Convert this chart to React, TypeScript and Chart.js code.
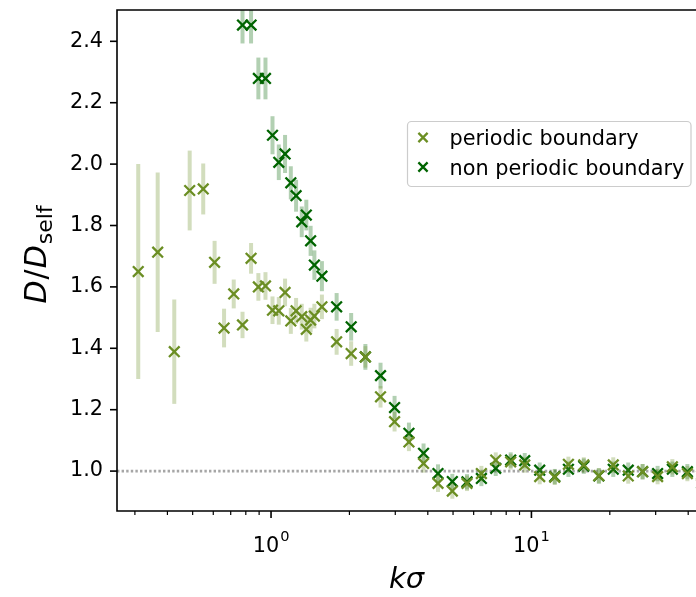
import React, { useEffect, useRef } from "react";
import { Chart, registerables } from "chart.js";

Chart.register(...registerables);

// ---------------- data ----------------
const kPeriodic = [0.309, 0.367, 0.425, 0.487, 0.549, 0.607, 0.66, 0.719, 0.777, 0.838, 0.894, 0.952, 1.013, 1.071, 1.132, 1.191, 1.248, 1.312, 1.366, 1.419, 1.467, 1.568, 1.786, 2.031, 2.303, 2.633, 2.981, 3.385, 3.852, 4.377, 4.968, 5.657, 6.424, 7.293, 8.324, 9.424, 10.76, 12.29, 13.87, 15.89, 18.15, 20.62, 23.54, 26.73, 30.52, 34.77, 39.71, 45.07];
const dPeriodic = [1.65, 1.713, 1.389, 1.914, 1.919, 1.68, 1.466, 1.577, 1.476, 1.693, 1.6, 1.603, 1.524, 1.522, 1.582, 1.489, 1.522, 1.503, 1.462, 1.492, 1.505, 1.535, 1.421, 1.383, 1.372, 1.242, 1.161, 1.095, 1.025, 0.96, 0.935, 0.96, 0.992, 1.036, 1.03, 1.02, 0.982, 0.98, 1.022, 1.02, 0.985, 1.02, 0.984, 0.998, 0.982, 1.014, 0.992, 0.985];
const errPeriodic = [0.35, 0.26, 0.17, 0.13, 0.083, 0.07, 0.063, 0.047, 0.043, 0.05, 0.045, 0.045, 0.045, 0.045, 0.045, 0.042, 0.042, 0.042, 0.04, 0.04, 0.04, 0.04, 0.042, 0.04, 0.035, 0.035, 0.032, 0.03, 0.03, 0.028, 0.025, 0.025, 0.025, 0.025, 0.025, 0.025, 0.025, 0.025, 0.025, 0.025, 0.025, 0.025, 0.025, 0.025, 0.025, 0.025, 0.025, 0.025];

const kNonPeriodic = [0.777, 0.838, 0.894, 0.952, 1.013, 1.071, 1.132, 1.191, 1.248, 1.312, 1.366, 1.419, 1.467, 1.568, 1.786, 2.031, 2.303, 2.633, 2.981, 3.385, 3.852, 4.377, 4.968, 5.657, 6.424, 7.293, 8.324, 9.424, 10.76, 12.29, 13.87, 15.89, 18.15, 20.62, 23.54, 26.73, 30.52, 34.77, 39.71, 45.07];
const dNonPeriodic = [2.453, 2.453, 2.279, 2.279, 2.094, 2.006, 2.033, 1.939, 1.897, 1.812, 1.834, 1.75, 1.671, 1.635, 1.535, 1.47, 1.372, 1.311, 1.207, 1.123, 1.058, 0.992, 0.966, 0.965, 0.976, 1.009, 1.036, 1.034, 1.003, 0.982, 1.006, 1.016, 0.984, 1.006, 1.003, 0.998, 0.992, 1.006, 0.998, 0.96];
const errNonPeriodic = [0.06, 0.06, 0.068, 0.068, 0.062, 0.058, 0.062, 0.054, 0.052, 0.05, 0.05, 0.049, 0.048, 0.049, 0.045, 0.045, 0.042, 0.042, 0.038, 0.035, 0.032, 0.03, 0.025, 0.025, 0.025, 0.025, 0.025, 0.025, 0.025, 0.025, 0.025, 0.025, 0.025, 0.025, 0.025, 0.025, 0.025, 0.025, 0.025, 0.025];

const yTicks = [1.0, 1.2, 1.4, 1.6, 1.8, 2.0, 2.2, 2.4];
const xMajorTicks = [1, 10];
const xMajorExponents = ["0", "1"];
const xMinorTicks = [0.3, 0.4, 0.5, 0.6, 0.7, 0.8, 0.9, 2, 3, 4, 5, 6, 7, 8, 9, 20, 30, 40];
const referenceLevel = 1.0;
const seriesLabels = ["periodic boundary", "non periodic boundary"];

// ---------------- styles ----------------
const FONT = '"DejaVu Sans", sans-serif';
const OLIVE = "#6b8e23";
const DKGREEN = "#006400";
const OLIVE_ERR = "rgba(107,142,35,0.3)";
const GREEN_ERR = "rgba(0,100,0,0.3)";
const X_MIN = 0.2561;
const X_MAX = 46;
const Y_MIN = 0.87;
const Y_MAX = 2.502;
const MARKER_R = 7.5;
const MARKER_W = 2.3;

function drawX(ctx: CanvasRenderingContext2D, x: number, y: number, h: number, color: string) {
  ctx.save();
  ctx.strokeStyle = color;
  ctx.lineWidth = MARKER_W;
  ctx.beginPath();
  ctx.moveTo(x - h, y - h);
  ctx.lineTo(x + h, y + h);
  ctx.moveTo(x - h, y + h);
  ctx.lineTo(x + h, y - h);
  ctx.stroke();
  ctx.restore();
}

const errorBarPlugin = {
  id: "errorBars",
  beforeDatasetsDraw(chart: any) {
    const ctx = chart.ctx as CanvasRenderingContext2D;
    const a = chart.chartArea;
    const ys = chart.scales.y;
    ctx.save();
    ctx.beginPath();
    ctx.rect(a.left, a.top, a.right - a.left, a.bottom - a.top);
    ctx.clip();
    ctx.strokeStyle = "rgba(128,128,128,0.7)";
    ctx.lineWidth = 2.6;
    ctx.setLineDash([2.4, 2.2]);
    const py = ys.getPixelForValue(referenceLevel);
    ctx.beginPath();
    ctx.moveTo(a.left, py);
    ctx.lineTo(a.right, py);
    ctx.stroke();
    ctx.restore();
  },
  beforeDatasetDraw(chart: any, args: any) {
    const ds = chart.data.datasets[args.index];
    const errs: number[] = ds.errors;
    const ctx = chart.ctx as CanvasRenderingContext2D;
    const a = chart.chartArea;
    const xs = chart.scales.x;
    const ys = chart.scales.y;
    ctx.save();
    ctx.beginPath();
    ctx.rect(a.left, a.top, a.right - a.left, a.bottom - a.top);
    ctx.clip();
    ctx.strokeStyle = ds.errorColor;
    ctx.lineWidth = 4;
    ctx.lineCap = "butt";
    ds.data.forEach((p: any, i: number) => {
      const px = xs.getPixelForValue(p.x);
      ctx.beginPath();
      ctx.moveTo(px, ys.getPixelForValue(p.y - errs[i]));
      ctx.lineTo(px, ys.getPixelForValue(p.y + errs[i]));
      ctx.stroke();
    });
    ctx.restore();
  },
};

const decorPlugin = {
  id: "decor",
  afterDraw(chart: any) {
    const ctx = chart.ctx as CanvasRenderingContext2D;
    const a = chart.chartArea;
    const xs = chart.scales.x;
    const ys = chart.scales.y;
    ctx.save();
    // spines
    ctx.strokeStyle = "#000";
    ctx.lineWidth = 1.6;
    ctx.beginPath();
    ctx.moveTo(a.left, a.top);
    ctx.lineTo(a.right, a.top);
    ctx.lineTo(a.right, a.bottom);
    ctx.lineTo(a.left, a.bottom);
    ctx.closePath();
    ctx.stroke();
    // y ticks
    yTicks.forEach((v) => {
      const py = ys.getPixelForValue(v);
      ctx.beginPath();
      ctx.moveTo(a.left - 7, py);
      ctx.lineTo(a.left, py);
      ctx.stroke();
    });
    // x major ticks
    ctx.fillStyle = "#000";
    xMajorTicks.forEach((v, i) => {
      const px = xs.getPixelForValue(v);
      ctx.lineWidth = 1.6;
      ctx.beginPath();
      ctx.moveTo(px, a.bottom);
      ctx.lineTo(px, a.bottom + 7);
      ctx.stroke();
      ctx.font = `20.8px ${FONT}`;
      const w1 = ctx.measureText("10").width;
      ctx.font = `14.6px ${FONT}`;
      const w2 = ctx.measureText(xMajorExponents[i]).width;
      const total = w1 + w2 + 1;
      const sx = px - total / 2;
      ctx.textBaseline = "alphabetic";
      ctx.textAlign = "left";
      ctx.font = `20.8px ${FONT}`;
      ctx.fillText("10", sx, 552);
      ctx.font = `14.6px ${FONT}`;
      ctx.fillText(xMajorExponents[i], sx + w1 + 1, 541);
    });
    // x minor ticks
    xMinorTicks.forEach((v) => {
      const px = xs.getPixelForValue(v);
      ctx.lineWidth = 1.2;
      ctx.beginPath();
      ctx.moveTo(px, a.bottom);
      ctx.lineTo(px, a.bottom + 4);
      ctx.stroke();
    });
    // x label
    ctx.font = `italic 29px ${FONT}`;
    ctx.textAlign = "center";
    ctx.fillText("kσ", (a.left + a.right) / 2 - 4, 588);
    // y label
    ctx.save();
    ctx.translate(46, (a.top + a.bottom) / 2 - 6);
    ctx.rotate(-Math.PI / 2);
    ctx.textAlign = "left";
    const parts = [
      { t: "D", f: `italic 30px ${FONT}`, dy: 0, gap: 1 },
      { t: "/", f: `30px ${FONT}`, dy: 0, gap: 1 },
      { t: "D", f: `italic 30px ${FONT}`, dy: 0, gap: 1 },
      { t: "self", f: `22px ${FONT}`, dy: 6, gap: 0 },
    ];
    let tw = 0;
    const widths = parts.map((p) => {
      ctx.font = p.f;
      const w = ctx.measureText(p.t).width + p.gap;
      tw += w;
      return w;
    });
    let cx = -tw / 2;
    parts.forEach((p, i) => {
      ctx.font = p.f;
      ctx.fillText(p.t, cx, p.dy);
      cx += widths[i];
    });
    ctx.restore();
    // legend
    const lx = 407.5, ly = 121.5, lw = 283.5, lh = 65, r = 4;
    ctx.fillStyle = "rgba(255,255,255,0.8)";
    ctx.strokeStyle = "#cccccc";
    ctx.lineWidth = 1.2;
    ctx.beginPath();
    ctx.moveTo(lx + r, ly);
    ctx.lineTo(lx + lw - r, ly);
    ctx.arcTo(lx + lw, ly, lx + lw, ly + r, r);
    ctx.lineTo(lx + lw, ly + lh - r);
    ctx.arcTo(lx + lw, ly + lh, lx + lw - r, ly + lh, r);
    ctx.lineTo(lx + r, ly + lh);
    ctx.arcTo(lx, ly + lh, lx, ly + lh - r, r);
    ctx.lineTo(lx, ly + r);
    ctx.arcTo(lx, ly, lx + r, ly, r);
    ctx.closePath();
    ctx.fill();
    ctx.stroke();
    const colors = [OLIVE, DKGREEN];
    const rows = [137.5, 167];
    seriesLabels.forEach((lab, i) => {
      drawX(ctx, 423, rows[i], 4.6, colors[i]);
      ctx.fillStyle = "#000";
      ctx.font = `20.8px ${FONT}`;
      ctx.textAlign = "left";
      ctx.textBaseline = "alphabetic";
      ctx.fillText(lab, 449.5, rows[i] + 7.5);
    });
    ctx.restore();
  },
};

export default function App() {
  const ref = useRef<HTMLCanvasElement | null>(null);
  useEffect(() => {
    if (!ref.current) return;
    const chart = new Chart(ref.current, {
      type: "scatter",
      data: {
        datasets: [
          {
            label: seriesLabels[0],
            data: kPeriodic.map((k, i) => ({ x: k, y: dPeriodic[i] })),
            errors: errPeriodic,
            errorColor: OLIVE_ERR,
            pointStyle: "crossRot",
            pointRadius: MARKER_R,
            pointBorderWidth: MARKER_W,
            borderColor: OLIVE,
            backgroundColor: OLIVE,
            borderWidth: MARKER_W,
          } as any,
          {
            label: seriesLabels[1],
            data: kNonPeriodic.map((k, i) => ({ x: k, y: dNonPeriodic[i] })),
            errors: errNonPeriodic,
            errorColor: GREEN_ERR,
            pointStyle: "crossRot",
            pointRadius: MARKER_R,
            pointBorderWidth: MARKER_W,
            borderColor: DKGREEN,
            backgroundColor: DKGREEN,
            borderWidth: MARKER_W,
          } as any,
        ],
      },
      options: {
        animation: false,
        responsive: false,
        devicePixelRatio: 1,
        events: [],
        layout: { padding: { left: 0, right: 16, top: 10, bottom: 0 } },
        plugins: { legend: { display: false }, tooltip: { enabled: false } },
        scales: {
          x: {
            type: "logarithmic",
            min: X_MIN,
            max: X_MAX,
            grid: { display: false, drawTicks: false },
            border: { display: false },
            ticks: { display: false },
            afterFit: (s: any) => {
              s.height = 86;
              s.paddingLeft = 0;
              s.paddingRight = 0;
            },
          },
          y: {
            type: "linear",
            min: Y_MIN,
            max: Y_MAX,
            grid: { display: false, drawTicks: false },
            border: { display: false },
            afterBuildTicks: (s: any) => {
              s.ticks = yTicks.map((v) => ({ value: v }));
            },
            ticks: {
              padding: 14,
              color: "#000",
              font: { family: "DejaVu Sans", size: 20.8 },
              callback: (v: any) => Number(v).toFixed(1),
            },
            afterFit: (s: any) => {
              s.width = 117;
              s.paddingTop = 0;
              s.paddingBottom = 0;
            },
          },
        },
      },
      plugins: [errorBarPlugin, decorPlugin],
    } as any);
    return () => chart.destroy();
  }, []);
  return (
    <div style={{ position: "fixed", left: 0, top: 0, width: 696, height: 597, overflow: "hidden", background: "#fff" }}>
      <canvas ref={ref} width={720} height={597} style={{ display: "block", width: 720, height: 597 }} />
    </div>
  );
}
